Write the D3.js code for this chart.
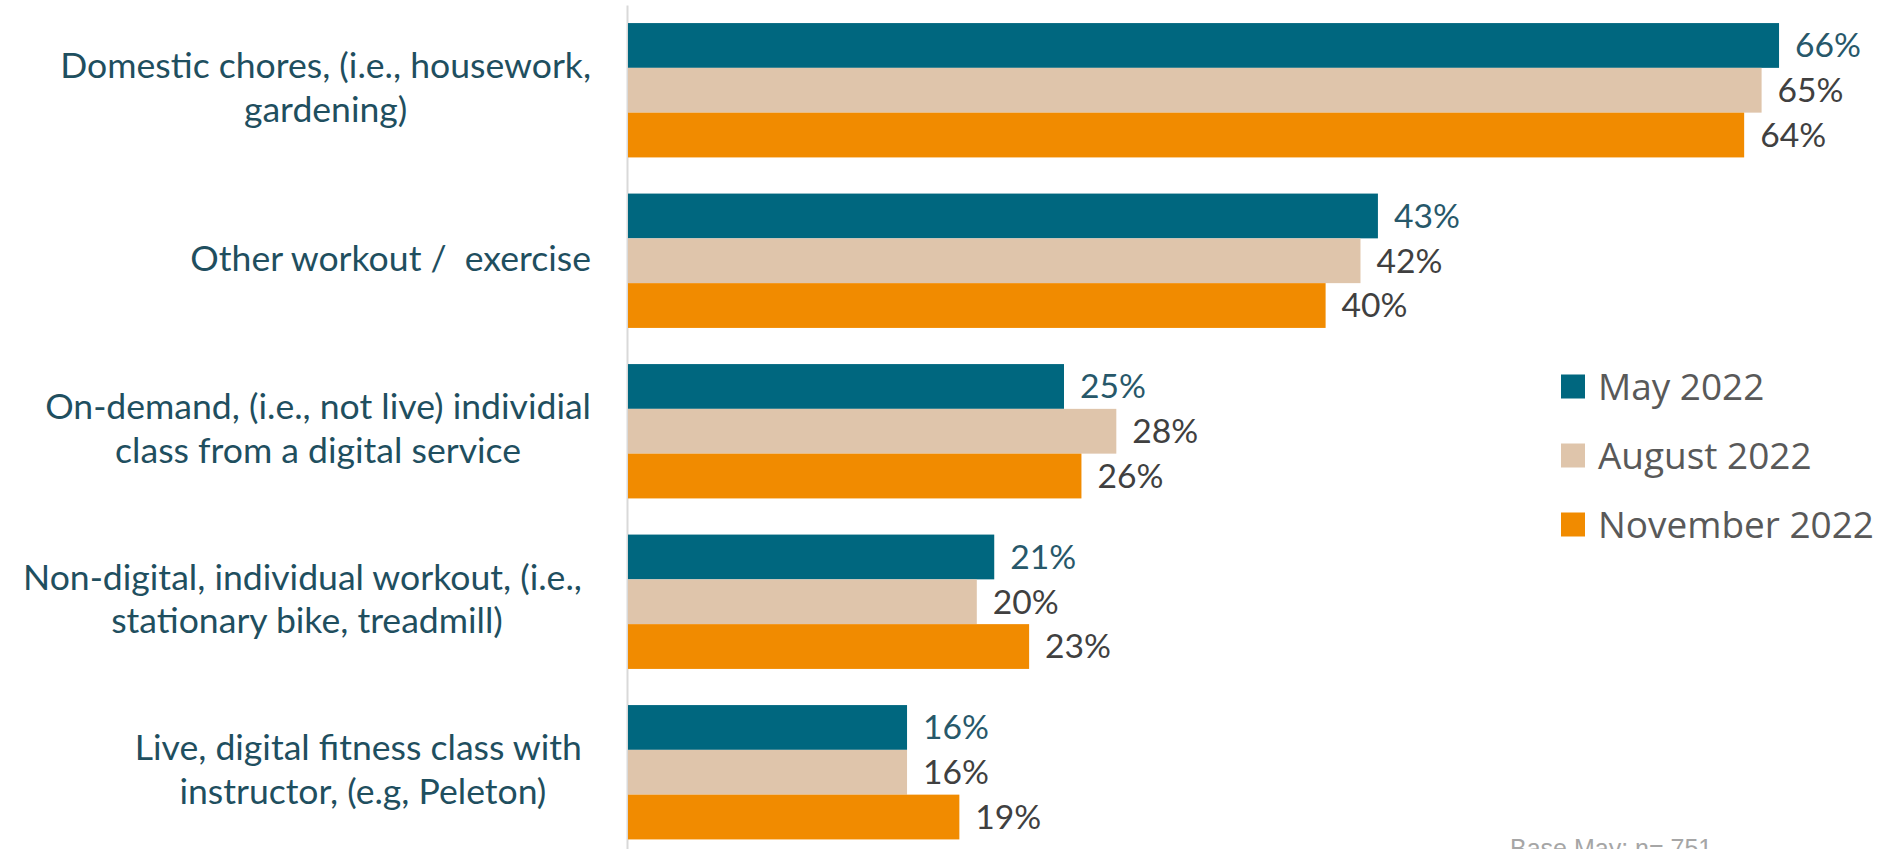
<!DOCTYPE html>
<html>
<head>
<meta charset="utf-8">
<script src="https://cdn.jsdelivr.net/npm/d3@7"></script>
<style>
  html, body { margin: 0; padding: 0; background: #ffffff; overflow: hidden; }
  svg { display: block; }
</style>
</head>
<body>
<svg id="chart" width="1896" height="849"></svg>
<script>
// Activity categories (top to bottom) and wrapped label lines
const categories = ["domestic", "other", "ondemand", "nondigital", "live"];
const categoryLines = [
  ["Domestic chores, (i.e., housework,", "gardening)"],
  ["Other workout /  exercise"],
  ["On-demand, (i.e., not live) individial", "class from a digital service"],
  ["Non-digital, individual workout, (i.e., ", "stationary bike, treadmill)"],
  ["Live, digital fitness class with ", "instructor, (e.g, Peleton)"]
];

// Survey waves and their percentages per category
const seriesNames = ["May 2022", "August 2022", "November 2022"];
const may2022 = [66, 43, 25, 21, 16];
const aug2022 = [65, 42, 28, 20, 16];
const nov2022 = [64, 40, 26, 23, 19];
const seriesColors = ["#00677f", "#dfc5ab", "#f18b00"];
const valueColors = ["#27586a", "#404040", "#404040"];

const footnote = "Base May: n= 751";

const seriesValues = [may2022, aug2022, nov2022];
const svg = d3.select("#chart");

// Find a font size that gives a string the wanted width
function fitSize(text, family, weight, targetWidth) {
  const t = svg.append("text")
    .style("font-family", family)
    .style("font-weight", weight)
    .style("font-size", "100px")
    .style("white-space", "pre")
    .text(text);
  const w = t.node().getComputedTextLength();
  t.remove();
  return 100 * targetWidth / w;
}

const labelFont = "Lato, 'Open Sans', sans-serif";
const legendFont = "'Open Sans', 'Noto Sans', sans-serif";
const labelSize = fitSize("Domestic chores, (i.e., housework,", labelFont, 400, 531);
const valueSize = fitSize("43%", labelFont, 400, 66);
const legendSize = fitSize("November 2022", legendFont, 400, 276);

// Scales
const x = d3.scaleLinear().domain([0, 70]).range([628, 628 + 70 * 17.44]);
const y = d3.scaleBand().domain(categories).range([5, 857.5])
  .paddingInner(0.212).paddingOuter(0.106);
const ySub = d3.scaleBand().domain(d3.range(seriesNames.length)).range([0, y.bandwidth()]);

// Vertical axis line
const axisG = svg.append("g")
  .attr("transform", `translate(${x(0) - 1},0)`)
  .call(d3.axisLeft(y).tickSize(0).tickSizeOuter(0).tickFormat(""));
axisG.select(".domain").attr("stroke", "#d9d9d9").attr("stroke-width", 2);

// Bars
const rows = categories.map((c, i) => ({ cat: c, i }));
const groups = svg.append("g").selectAll("g.grp")
  .data(rows).join("g")
  .attr("class", "grp")
  .attr("transform", d => `translate(0,${y(d.cat)})`);

groups.selectAll("rect")
  .data(d => seriesValues.map((vals, s) => ({ s, v: vals[d.i] })))
  .join("rect")
  .attr("x", x(0))
  .attr("y", d => ySub(d.s))
  .attr("width", d => x(d.v) - x(0))
  .attr("height", ySub.bandwidth())
  .attr("fill", d => seriesColors[d.s]);

// Value labels
groups.selectAll("text.val")
  .data(d => seriesValues.map((vals, s) => ({ s, v: vals[d.i] })))
  .join("text")
  .attr("class", "val")
  .attr("x", d => x(d.v) + 16)
  .attr("y", d => ySub(d.s) + ySub.bandwidth() / 2)
  .attr("dy", "0.35em")
  .style("font-family", labelFont)
  .style("font-size", valueSize + "px")
  .attr("fill", d => valueColors[d.s])
  .text(d => d.v + "%");

// Category labels: block right-aligned, lines centred within the block
const labelRight = 591;
const lineHeight = 43.5;
const labelG = svg.append("g");
categoryLines.forEach((lines, i) => {
  const g = labelG.append("g");
  const texts = lines.map((line, j) => g.append("text")
    .style("font-family", labelFont)
    .style("font-size", labelSize + "px")
    .style("white-space", "pre")
    .attr("fill", "#1f4f5f")
    .attr("text-anchor", "middle")
    .text(line));
  const blockW = d3.max(texts, t => t.node().getComputedTextLength());
  const cx = labelRight - blockW / 2;
  const cy = y(categories[i]) + y.bandwidth() / 2 - 3;
  texts.forEach((t, j) => {
    t.attr("x", cx)
      .attr("y", cy + (j - (lines.length - 1) / 2) * lineHeight)
      .attr("dy", "0.36em");
  });
});

// Legend
const legend = svg.append("g").selectAll("g")
  .data(seriesNames).join("g")
  .attr("transform", (d, i) => `translate(1561,${386.5 + i * 69})`);
legend.append("rect")
  .attr("x", 0).attr("y", -12)
  .attr("width", 24).attr("height", 24)
  .attr("fill", (d, i) => seriesColors[i]);
legend.append("text")
  .attr("x", 37).attr("y", 0).attr("dy", "0.36em")
  .style("font-family", legendFont)
  .style("font-size", legendSize + "px")
  .attr("fill", "#595959")
  .text(d => d);

// Footnote (partly below the visible area)
svg.append("text")
  .attr("x", 1510).attr("y", 857)
  .style("font-family", "'Liberation Sans', Arial, sans-serif")
  .style("font-size", "25px")
  .attr("fill", "#a6a6a6")
  .text(footnote);
</script>
</body>
</html>
